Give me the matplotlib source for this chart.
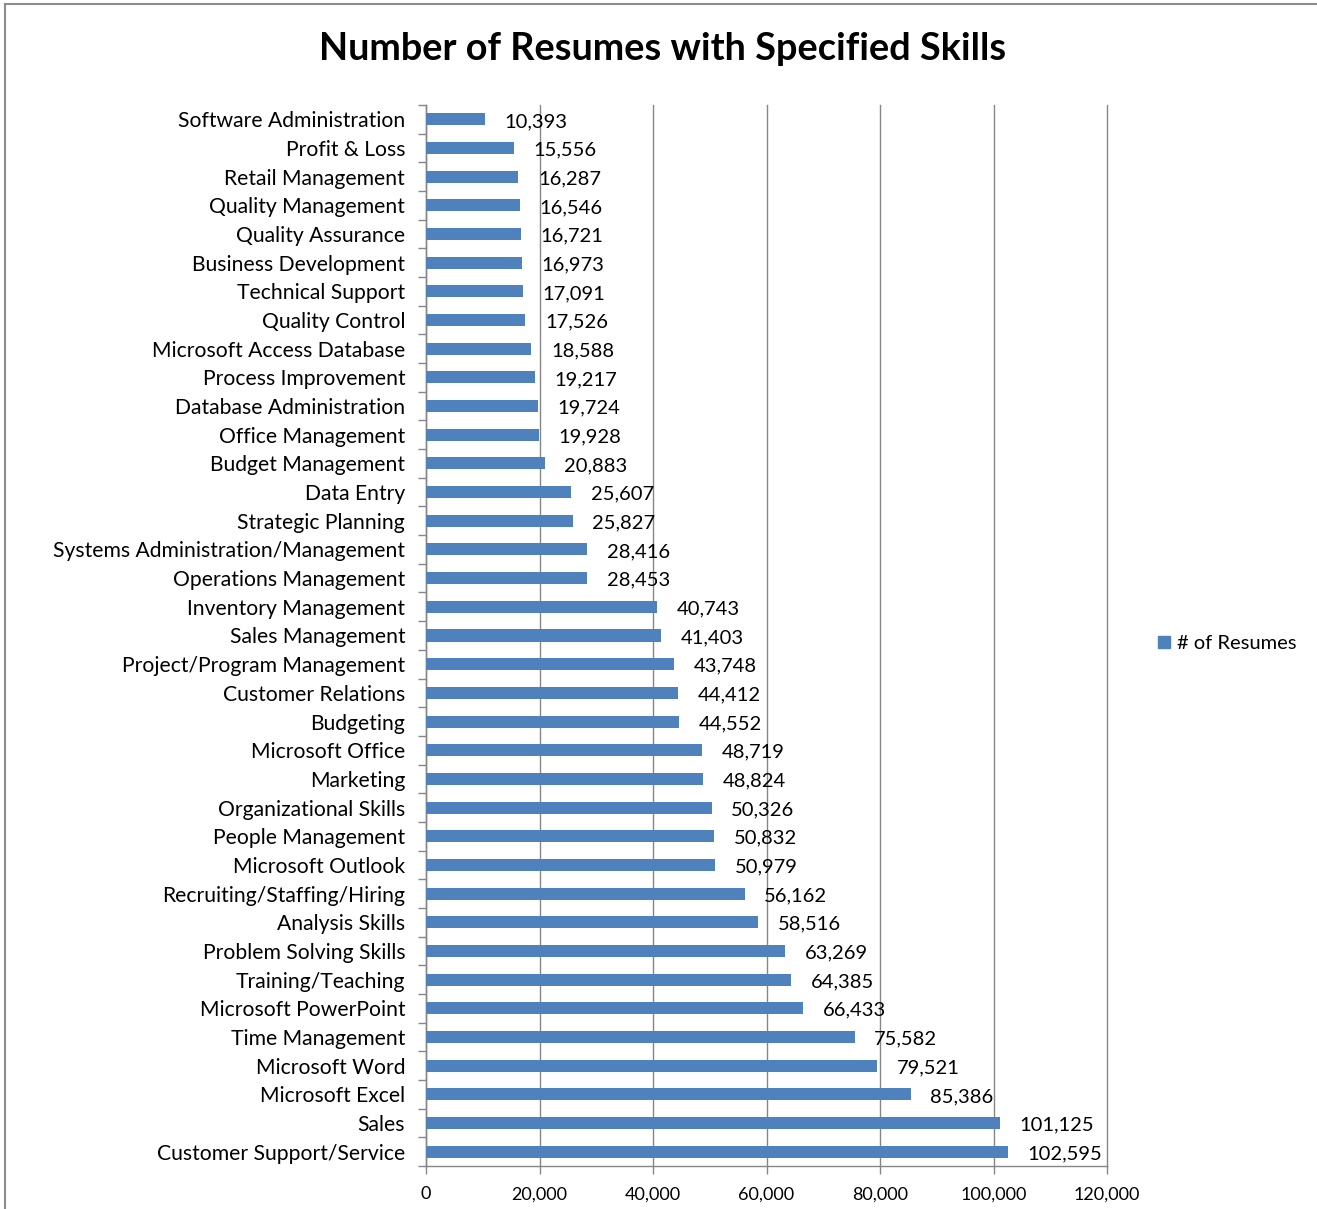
import matplotlib
matplotlib.use("Agg")
import matplotlib.pyplot as plt
from matplotlib.lines import Line2D
from matplotlib.ticker import FuncFormatter, MultipleLocator
import numpy as np

plt.rcParams['font.family'] = ['Lato', 'DejaVu Sans']

categories = [
    "Software Administration", "Profit & Loss", "Retail Management", "Quality Management",
    "Quality Assurance", "Business Development", "Technical Support", "Quality Control",
    "Microsoft Access Database", "Process Improvement", "Database Administration",
    "Office Management", "Budget Management", "Data Entry", "Strategic Planning",
    "Systems Administration/Management", "Operations Management", "Inventory Management",
    "Sales Management", "Project/Program Management", "Customer Relations", "Budgeting",
    "Microsoft Office", "Marketing", "Organizational Skills", "People Management",
    "Microsoft Outlook", "Recruiting/Staffing/Hiring", "Analysis Skills",
    "Problem Solving Skills", "Training/Teaching", "Microsoft PowerPoint",
    "Time Management", "Microsoft Word", "Microsoft Excel", "Sales",
    "Customer Support/Service",
]
values = [
    10393, 15556, 16287, 16546, 16721, 16973, 17091, 17526, 18588, 19217, 19724,
    19928, 20883, 25607, 25827, 28416, 28453, 40743, 41403, 43748, 44412, 44552,
    48719, 48824, 50326, 50832, 50979, 56162, 58516, 63269, 64385, 66433, 75582,
    79521, 85386, 101125, 102595,
]
series_name = "# of Resumes"
title = "Number of Resumes with Specified Skills"

bar_color = "#4F81BD"
grid_color = "#868686"

fig = plt.figure(figsize=(13.17, 12.09), dpi=100)
# outer chart border
fig.add_artist(Line2D([5/1317, 5/1317], [0, 1 - 4/1209], transform=fig.transFigure, color="#8c8c8c", lw=1.5))
fig.add_artist(Line2D([5/1317, 1], [1 - 4/1209, 1 - 4/1209], transform=fig.transFigure, color="#8c8c8c", lw=1.5))

ax = fig.add_axes([426/1317, 1 - 1166/1209, (1107 - 426)/1317, (1166 - 105)/1209])
y = np.arange(len(categories))
ax.barh(y, values, height=0.42, color=bar_color, zorder=3, label=series_name)
ax.set_ylim(len(categories) - 0.5, -0.5)
ax.set_xlim(0, 120000)
ax.xaxis.set_major_locator(MultipleLocator(20000))
ax.xaxis.set_major_formatter(FuncFormatter(lambda v, p: f"{int(v):,}"))
ax.set_yticks(y)
ax.set_yticklabels(categories)
ax.set_yticks(np.arange(-0.5, len(categories), 1), minor=True)
ax.tick_params(axis='y', which='major', length=0, pad=15, labelsize=15.2)
ax.tick_params(axis='y', which='minor', length=6, color=grid_color, width=1)
ax.tick_params(axis='x', length=6, color=grid_color, width=1, labelsize=13, pad=8.5)
ax.grid(axis='x', color=grid_color, lw=1, zorder=0)
for gl in ax.get_xgridlines():
    gl.set_clip_on(False)
for s in ['top', 'right']:
    ax.spines[s].set_visible(False)
for s in ['left', 'bottom']:
    ax.spines[s].set_color(grid_color)
    ax.spines[s].set_linewidth(1)

for yi, v in zip(y, values):
    ax.annotate(f"{v:,}", (v, yi), xytext=(14, -1.5), textcoords='offset points',
                va='center', ha='left', fontsize=14.5, zorder=4)

fig.text(663/1317, 1 - 49/1209, title, ha='center', va='center', fontsize=27.3, fontweight='bold')

leg = fig.legend(handles=[Line2D([], [], marker='s', ls='', color=bar_color, markersize=9)],
                 labels=[series_name], loc='center left', bbox_to_anchor=(1147/1317, 1 - 643/1209),
                 frameon=False, fontsize=14.5, handletextpad=0.3, handlelength=0.7, borderpad=0)

fig.savefig("out.png", dpi=100)
